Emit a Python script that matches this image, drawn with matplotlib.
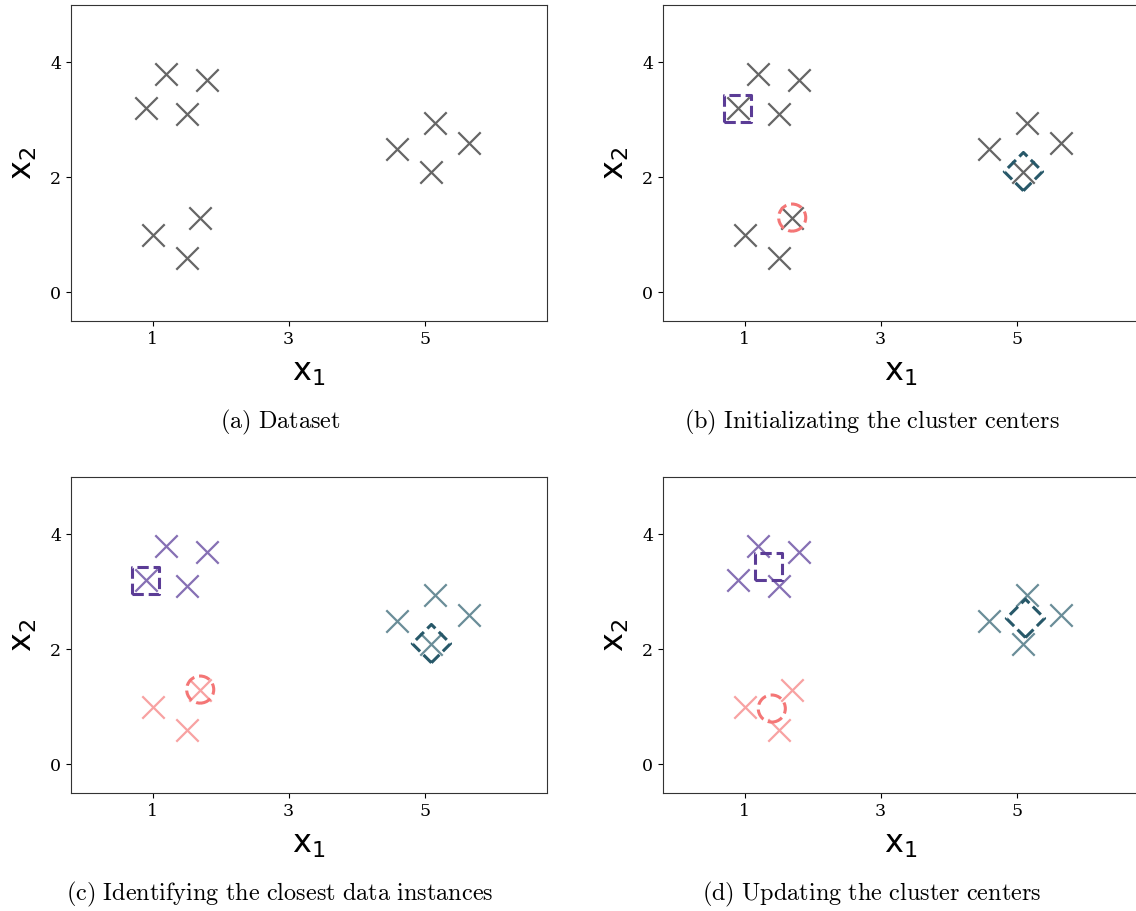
import matplotlib
matplotlib.use("Agg")
import matplotlib.pyplot as plt
import numpy as np

plt.rcParams['mathtext.fontset'] = 'cm'

# data points
x1_vals = [0.9, 1.2, 1.8, 1.5, 1.0, 1.5, 1.7, 4.6, 5.15, 5.1, 5.65]
x2_vals = [3.2, 3.8, 3.7, 3.1, 1.0, 0.6, 1.3, 2.5, 2.95, 2.1, 2.6]
cluster = [0, 0, 0, 0, 1, 1, 1, 2, 2, 2, 2]

# cluster centers
init_cx = [0.9, 1.7, 5.1]
init_cy = [3.2, 1.3, 2.1]
upd_cx = [1.35, 1.4, 5.13]
upd_cy = [3.45, 0.97, 2.54]

center_colors = ['#5b3c96', '#f47676', '#275869']
cross_colors = ['#8670b4', '#f8a2a2', '#6a8d98']
center_markers = ['s', 'o', 'D']
captions = [r'$\mathrm{(a)\ Dataset}$',
            r'$\mathrm{(b)\ Initializating\ the\ cluster\ centers}$',
            r'$\mathrm{(c)\ Identifying\ the\ closest\ data\ instances}$',
            r'$\mathrm{(d)\ Updating\ the\ cluster\ centers}$']

W, H = 1136, 911
fig = plt.figure(figsize=(W / 100, H / 100), dpi=100)

lefts = [71, 663, 71, 663]
tops = [5, 5, 477, 477]
cap_x = [280, 872, 280, 872]
aw, ah = 476, 316

x1 = np.array(x1_vals)
x2 = np.array(x2_vals)
lab = np.array(cluster)

for i in range(4):
    ax = fig.add_axes([lefts[i] / W, 1 - (tops[i] + ah) / H, aw / W, ah / H])
    if i < 2:
        ax.scatter(x1, x2, marker='x', s=260, linewidths=1.6, c='#666666', zorder=2)
    else:
        for k in range(3):
            m = lab == k
            ax.scatter(x1[m], x2[m], marker='x', s=260, linewidths=1.6,
                       c=cross_colors[k], zorder=2)
    if i >= 1:
        cx = init_cx if i < 3 else upd_cx
        cy = init_cy if i < 3 else upd_cy
        for k in range(3):
            ax.scatter([cx[k]], [cy[k]], marker=center_markers[k], s=380,
                       facecolors='none', edgecolors=center_colors[k],
                       linewidths=2.2, linestyle='--', zorder=3)
    ax.set_xlim(-0.2, 6.8)
    ax.set_ylim(-0.5, 5.0)
    ax.set_xticks([1, 3, 5])
    ax.set_yticks([0, 2, 4])
    ax.tick_params(labelsize=12.5)
    for t in ax.get_xticklabels() + ax.get_yticklabels():
        t.set_fontfamily('DejaVu Serif')
    for s in ax.spines.values():
        s.set_color('#333333')
    ax.set_xlabel(r'$\mathregular{x_1}$', fontsize=23, fontfamily='DejaVu Sans', labelpad=7)
    ax.set_ylabel(r'$\mathregular{x_2}$', fontsize=23, fontfamily='DejaVu Sans', labelpad=8)
    fig.text(cap_x[i] / W, 1 - (tops[i] + ah + 101) / H, captions[i],
             ha='center', va='center', fontsize=17.5)

fig.savefig('out.png', dpi=100)
